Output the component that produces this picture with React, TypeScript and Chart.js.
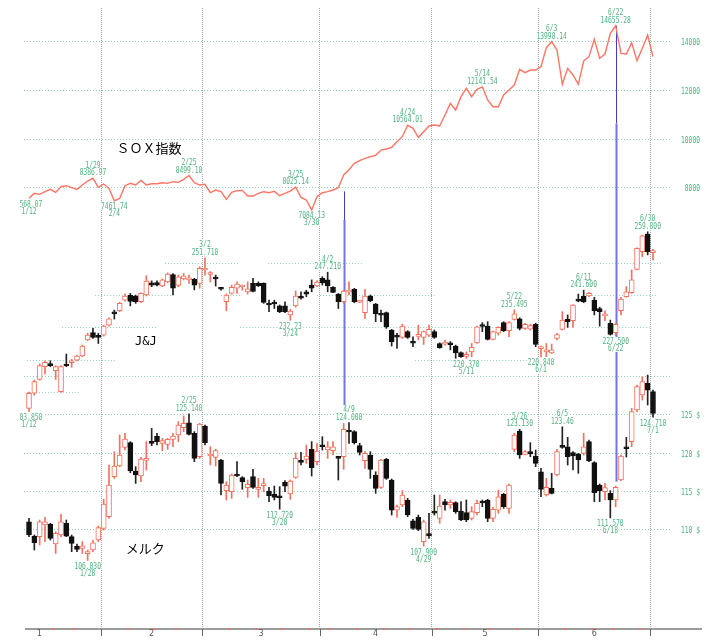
import React, { useEffect, useRef } from 'react';
import { Chart, registerables } from 'chart.js';

Chart.register(...registerables);

// ---------- categories (trading days, month by month) ----------
const tradingDays: number[][] = [
  [12, 13, 14, 15, 16, 20, 21, 22, 23, 26, 27, 28, 29, 30],
  [2, 3, 4, 5, 6, 9, 10, 11, 12, 13, 17, 18, 19, 20, 23, 24, 25, 26, 27],
  [2, 3, 4, 5, 6, 9, 10, 11, 12, 13, 16, 17, 18, 19, 20, 23, 24, 25, 26, 27, 30, 31],
  [1, 2, 6, 7, 8, 9, 10, 13, 14, 15, 16, 17, 20, 21, 22, 23, 24, 27, 28, 29, 30],
  [1, 4, 5, 6, 7, 8, 11, 12, 13, 14, 15, 18, 19, 20, 21, 22, 26, 27, 28, 29],
  [1, 2, 3, 4, 5, 8, 9, 10, 11, 12, 15, 16, 17, 18, 22, 23, 24, 25, 26, 29, 30],
  [1],
];
const monthLabels = ['1', '2', '3', '4', '5', '6'];

// ---------- series ----------
const soxClose = [
  7568.07, 7767, 7726, 7836, 7932, 7808, 8041, 8082, 8000, 7932,
  8110, 8274, 8386.97, 8014, 8151, 7973, 7461.74, 7560, 8082, 8178,
  8110, 8301, 8110, 8164, 8164, 8205, 8178, 8247, 8219, 8342,
  8499.10, 8205, 8110, 8137, 7795, 7904, 7836, 7520, 7808, 7877,
  7890, 7658, 7658, 7767, 7836, 7795, 7849, 7671, 7767, 7863,
  8025.14, 7603, 7493, 7084.13, 7630, 7795, 7836, 7904, 8000, 8521,
  8740, 9000, 9110, 9206, 9274, 9329, 9548, 9589, 9658, 9891,
  10096, 10564.01, 10439, 10069, 10302, 10535, 10576, 10535, 10987, 11466,
  11192, 11740, 12083, 11740, 12042, 12141.54, 11603, 11329, 11329, 11809,
  12014, 12220, 12864, 12727, 12836, 12836, 12973, 13754, 13998.14, 13658,
  12247, 12905, 12631, 12247, 13206, 13384, 14097, 13316, 13494, 14343,
  14655.28, 13521, 13494, 13960, 13220, 13727, 14275, 13384,
];

const jnjOpen = [
  204.8, 209.5, 213.8, 217.8, 218.6, 216.5, 210.0, 218.2, 219.0, 219.8,
  221.1, 226.1, 228.4, 227.3, 227.6, 230.7, 234.8, 235.2, 238.5, 240.0,
  239.8, 238.0, 240.1, 243.9, 244.0, 242.9, 244.2, 246.5, 243.1, 245.1,
  244.8, 245.0, 243.7, 247.9, 246.5, 245.6, 242.2, 238.0, 240.6, 242.2,
  242.6, 241.1, 243.7, 243.7, 243.7, 237.5, 237.5, 236.7, 236.7, 233.9,
  236.7, 239.8, 241.1, 243.2, 242.9, 245.3, 244.8, 242.5, 240.4, 238.0,
  241.0, 241.9, 237.9, 234.6, 239.8, 237.3, 234.1, 234.6, 229.2, 227.3,
  226.9, 228.7, 225.4, 227.2, 226.9, 227.6, 228.7, 225.0, 224.8, 225.0,
  224.2, 222.2, 221.0, 222.4, 225.2, 230.6, 230.4, 226.3, 228.2, 231.5,
  229.0, 232.5, 232.7, 229.7, 229.5, 231.0, 223.4, 222.4, 222.1, 226.6,
  229.4, 232.5, 232.1, 238.7, 239.8, 239.8, 238.5, 235.9, 233.6, 231.3,
  228.4, 235.2, 239.6, 240.8, 248.1, 253.6, 259.1, 253.3,
];
const jnjHigh = [
  209.9, 213.6, 218.6, 219.6, 219.6, 218.1, 218.1, 221.7, 220.1, 221.4,
  224.5, 228.2, 229.7, 228.2, 230.7, 233.0, 235.4, 237.8, 240.4, 240.6,
  240.1, 240.8, 246.1, 244.5, 244.5, 245.1, 247.0, 246.8, 246.3, 246.8,
  246.3, 245.3, 248.9, 251.71, 247.4, 246.3, 242.4, 240.4, 243.2, 244.2,
  243.2, 244.2, 245.3, 244.2, 243.9, 238.5, 238.5, 237.0, 238.0, 235.6,
  241.4, 241.1, 241.6, 244.8, 244.6, 245.8, 247.21, 242.7, 240.6, 241.6,
  244.2, 242.2, 238.5, 241.9, 240.1, 237.5, 235.4, 234.8, 229.4, 228.2,
  231.0, 229.0, 227.1, 230.7, 228.9, 230.7, 229.2, 225.2, 226.1, 225.6,
  224.5, 222.4, 222.4, 225.0, 230.4, 231.5, 231.8, 228.9, 230.2, 231.8,
  231.8, 235.495, 233.0, 231.3, 231.0, 231.3, 224.2, 225.0, 224.8, 228.2,
  234.9, 233.9, 237.1, 240.4, 241.6, 240.9, 239.4, 236.3, 235.2, 232.3,
  231.3, 239.4, 242.7, 247.9, 254.8, 258.8, 259.8, 254.3,
];
const jnjLow = [
  203.85, 208.9, 213.6, 215.5, 217.8, 213.8, 209.8, 217.8, 217.6, 219.6,
  220.9, 225.9, 226.6, 225.0, 227.3, 230.4, 232.6, 234.9, 238.2, 236.7,
  237.5, 237.7, 239.8, 242.7, 242.9, 242.7, 243.9, 240.1, 242.7, 244.8,
  243.7, 241.7, 242.2, 246.3, 244.2, 242.9, 241.6, 235.2, 240.4, 240.6,
  241.6, 240.4, 241.1, 242.7, 237.5, 234.9, 235.9, 234.6, 234.6, 232.23,
  236.3, 238.8, 239.6, 241.1, 242.7, 243.2, 241.1, 240.8, 235.9, 237.5,
  240.1, 237.7, 237.7, 232.8, 238.0, 231.8, 231.8, 229.7, 224.2, 223.5,
  226.6, 226.6, 224.0, 226.1, 224.7, 227.1, 226.6, 223.5, 224.5, 223.0,
  220.4, 220.7, 220.37, 220.9, 225.0, 228.7, 226.1, 226.1, 227.6, 228.7,
  227.1, 232.3, 229.2, 229.4, 229.2, 224.0, 220.84, 220.9, 221.9, 226.1,
  229.2, 230.0, 230.0, 238.0, 237.7, 239.6, 233.9, 230.4, 232.1, 227.6,
  227.5, 233.9, 239.4, 240.6, 247.9, 252.0, 252.6, 251.0,
];
const jnjClose = [
  209.5, 213.1, 218.1, 219.1, 218.1, 217.8, 217.8, 218.0, 219.6, 221.1,
  224.2, 227.6, 226.9, 226.9, 230.4, 232.7, 234.2, 237.5, 239.8, 238.1,
  238.0, 240.6, 244.4, 243.2, 243.2, 244.8, 246.6, 242.2, 245.8, 246.1,
  245.1, 243.2, 248.4, 248.4, 246.8, 245.1, 241.9, 240.1, 242.5, 243.5,
  242.9, 242.0, 241.2, 243.0, 237.8, 237.0, 237.3, 234.9, 234.9, 235.1,
  239.8, 239.1, 240.4, 242.2, 244.1, 243.9, 242.9, 240.9, 238.0, 241.3,
  241.3, 238.0, 238.2, 239.8, 238.3, 234.2, 233.8, 230.2, 225.6, 227.0,
  230.4, 226.9, 225.1, 227.5, 228.7, 229.4, 226.9, 223.7, 225.1, 224.6,
  222.1, 220.9, 221.3, 223.8, 230.2, 230.3, 226.3, 228.7, 230.0, 229.0,
  231.5, 234.2, 229.7, 231.0, 230.6, 224.7, 223.7, 222.7, 223.0, 227.8,
  232.3, 231.8, 237.0, 238.2, 238.0, 240.6, 235.2, 234.9, 233.9, 227.8,
  231.0, 238.8, 241.1, 244.8, 254.6, 258.5, 253.6, 253.8,
];

const mrkOpen = [
  111.08, 109.21, 109.13, 110.65, 110.78, 108.17, 109.35, 110.87, 109.13, 107.91,
  107.61, 106.91, 107.39, 108.69, 110.21, 111.74, 116.95, 118.34, 120.78, 121.39,
  117.69, 117.04, 119.08, 121.43, 122.26, 121.30, 121.17, 121.82, 122.39, 123.34,
  123.99, 122.60, 119.56, 123.56, 119.65, 119.47, 119.13, 115.13, 115.00, 117.21,
  116.82, 115.52, 116.95, 115.30, 115.78, 115.08, 114.69, 114.34, 116.21, 114.69,
  116.86, 118.95, 119.21, 120.52, 118.91, 121.00, 120.43, 120.34, 119.47, 119.56,
  122.91, 122.82, 121.00, 119.04, 119.78, 117.17, 115.56, 119.21, 116.52, 112.60,
  113.26, 113.91, 111.21, 111.65, 108.48, 109.43, 112.34, 111.52, 113.69, 113.26,
  113.56, 112.47, 112.26, 111.52, 112.26, 113.65, 113.91, 111.52, 112.60, 114.65,
  112.82, 120.52, 122.91, 119.86, 120.21, 119.65, 117.60, 114.56, 115.43, 117.17,
  120.95, 120.86, 120.08, 119.91, 120.00, 121.52, 118.78, 115.87, 115.00, 114.78,
  113.91, 116.52, 120.86, 121.52, 125.65, 127.60, 129.12, 128.04,
];
const mrkHigh = [
  111.52, 109.35, 111.30, 111.65, 110.87, 109.78, 112.04, 111.30, 109.35, 108.17,
  108.48, 107.39, 108.69, 110.52, 114.00, 118.47, 120.21, 122.39, 122.60, 121.52,
  118.26, 119.47, 121.52, 123.25, 122.60, 121.95, 121.95, 122.60, 124.12, 124.86,
  125.14, 122.82, 123.91, 123.69, 120.86, 120.52, 119.21, 116.30, 117.30, 118.91,
  116.95, 116.52, 117.91, 116.73, 116.73, 115.56, 115.73, 115.65, 116.43, 116.52,
  120.08, 120.13, 121.08, 121.52, 121.30, 122.17, 121.52, 121.52, 119.56, 123.90,
  124.00, 122.95, 121.30, 120.21, 120.21, 117.60, 119.21, 119.34, 116.65, 113.26,
  115.13, 114.13, 111.39, 111.95, 111.30, 112.17, 114.56, 114.56, 114.00, 113.91,
  113.69, 113.69, 113.91, 113.04, 113.91, 113.91, 114.00, 112.95, 115.21, 114.78,
  116.00, 122.60, 123.13, 120.34, 121.39, 120.43, 118.04, 116.73, 117.39, 120.52,
  123.46, 122.08, 120.21, 120.00, 122.60, 121.73, 118.91, 116.00, 116.08, 115.13,
  115.73, 119.78, 122.08, 125.86, 128.91, 129.99, 130.21, 128.25,
];
const mrkLow = [
  109.13, 107.39, 108.04, 108.48, 108.69, 106.95, 109.13, 109.13, 107.17, 107.17,
  106.95, 106.03, 107.17, 108.48, 109.99, 111.52, 116.73, 118.26, 120.43, 117.47,
  116.08, 116.30, 117.82, 121.00, 121.08, 120.34, 120.52, 120.86, 121.52, 122.82,
  122.39, 118.91, 119.34, 121.08, 118.47, 118.34, 114.56, 113.91, 114.13, 116.95,
  115.30, 114.26, 115.43, 114.26, 115.00, 113.69, 113.91, 112.72, 115.00, 114.00,
  116.73, 118.47, 118.69, 117.04, 118.47, 120.43, 119.34, 119.78, 116.52, 117.91,
  121.30, 121.21, 119.78, 118.04, 116.73, 114.78, 115.43, 116.60, 111.95, 111.65,
  113.04, 111.74, 110.08, 109.91, 107.90, 108.91, 111.95, 110.87, 112.60, 112.82,
  112.17, 111.21, 111.08, 111.30, 111.95, 113.04, 111.08, 111.08, 112.17, 112.82,
  112.17, 120.21, 119.34, 119.78, 119.56, 118.26, 114.34, 114.43, 114.69, 117.04,
  120.65, 118.47, 117.82, 117.39, 119.78, 118.91, 113.69, 113.69, 113.91, 111.57,
  113.04, 116.43, 119.52, 120.86, 125.43, 126.95, 126.30, 124.71,
];
const mrkClose = [
  109.35, 108.34, 111.08, 111.08, 108.91, 109.56, 111.08, 109.21, 108.26, 107.48,
  107.95, 107.04, 108.34, 110.30, 113.39, 115.87, 118.34, 119.78, 121.86, 117.69,
  117.17, 119.26, 119.26, 121.30, 121.52, 121.65, 121.82, 122.26, 123.69, 123.91,
  122.47, 119.34, 123.82, 121.39, 119.78, 120.34, 116.08, 115.87, 117.17, 117.04,
  116.30, 115.95, 115.56, 115.56, 115.91, 114.47, 114.26, 114.21, 115.73, 116.39,
  119.34, 118.82, 119.65, 118.13, 120.30, 120.86, 120.86, 120.86, 119.34, 123.12,
  122.78, 121.39, 120.13, 120.00, 117.91, 115.43, 119.13, 116.73, 112.60, 113.04,
  114.56, 111.95, 110.21, 110.08, 111.08, 109.26, 112.21, 113.13, 113.26, 113.60,
  112.39, 111.30, 111.30, 112.39, 113.47, 113.52, 111.52, 112.69, 114.34, 113.04,
  115.87, 122.39, 119.78, 120.21, 119.91, 118.69, 115.30, 115.56, 114.78, 120.21,
  120.78, 119.56, 119.65, 119.13, 120.86, 119.00, 114.87, 115.13, 115.52, 113.91,
  115.56, 119.65, 120.60, 125.43, 128.69, 129.34, 128.25, 125.21,
];

// ---------- axis ticks ----------
const soxTicks = [8000, 10000, 12000, 14000];
const mrkGridTicks = [110, 115, 120, 125, 130];
const mrkTickLabels = [110, 115, 120, 125];
const jnjGrid = [
  { level: 250, spans: [[25.5, 39.2], [44.8, 62.4], [103.7, 118.9]] },
  { level: 240, spans: [[12.4, 27], [36, 39.6], [54, 76.1], [103.9, 117.8]] },
  { level: 230, spans: [[6.2, 24], [39.6, 95.3], [103.9, 116.4]] },
  { level: 220, spans: [[-0.4, 16.1], [72.4, 98.6]] },
  { level: 210, spans: [[-0.4, 9.4]] },
];

// ---------- annotations (high / low marks) ----------
type Ann = { series: 'sox' | 'jnj' | 'mrk'; index: number; side: 'high' | 'low'; decimals: number };
const annotations: Ann[] = [
  { series: 'sox', index: 0, side: 'low', decimals: 2 },
  { series: 'sox', index: 12, side: 'high', decimals: 2 },
  { series: 'sox', index: 16, side: 'low', decimals: 2 },
  { series: 'sox', index: 30, side: 'high', decimals: 2 },
  { series: 'sox', index: 50, side: 'high', decimals: 2 },
  { series: 'sox', index: 53, side: 'low', decimals: 2 },
  { series: 'sox', index: 71, side: 'high', decimals: 2 },
  { series: 'sox', index: 85, side: 'high', decimals: 2 },
  { series: 'sox', index: 98, side: 'high', decimals: 2 },
  { series: 'sox', index: 110, side: 'high', decimals: 2 },
  { series: 'jnj', index: 0, side: 'low', decimals: 3 },
  { series: 'jnj', index: 33, side: 'high', decimals: 3 },
  { series: 'jnj', index: 49, side: 'low', decimals: 2 },
  { series: 'jnj', index: 56, side: 'high', decimals: 3 },
  { series: 'jnj', index: 82, side: 'low', decimals: 3 },
  { series: 'jnj', index: 91, side: 'high', decimals: 3 },
  { series: 'jnj', index: 96, side: 'low', decimals: 3 },
  { series: 'jnj', index: 104, side: 'high', decimals: 3 },
  { series: 'jnj', index: 110, side: 'low', decimals: 3 },
  { series: 'jnj', index: 116, side: 'high', decimals: 3 },
  { series: 'mrk', index: 11, side: 'low', decimals: 3 },
  { series: 'mrk', index: 30, side: 'high', decimals: 3 },
  { series: 'mrk', index: 47, side: 'low', decimals: 3 },
  { series: 'mrk', index: 60, side: 'high', decimals: 3 },
  { series: 'mrk', index: 74, side: 'low', decimals: 3 },
  { series: 'mrk', index: 92, side: 'high', decimals: 3 },
  { series: 'mrk', index: 100, side: 'high', decimals: 2 },
  { series: 'mrk', index: 109, side: 'low', decimals: 3 },
  { series: 'mrk', index: 117, side: 'low', decimals: 3 },
];

const seriesTitles = [
  { text: 'ＳＯＸ指数', axis: 'ySox', index: 22.5, value: 9632, font: '13px "Noto Sans CJK JP"' },
  { text: 'J&J', axis: 'yJnj', index: 21.9, value: 225.6, font: '12px "DejaVu Sans Mono"' },
  { text: 'メルク', axis: 'yMrk', index: 21.8, value: 107.65, font: '13px "Noto Sans CJK JP"' },
];

// vertical connector lines: thin part on SOX scale, thick part down to Merck
const connectors = [
  { index: 59, soxTop: 7850, soxMid: 6673, mrkBottom: 124.3 },
  { index: 110, soxTop: 14655.28, soxMid: 10640, mrkBottom: 116.3 },
];

// ---------- derived helpers ----------
const dayStamps = tradingDays.flatMap((days, m) => days.map((d) => Date.UTC(2015, m, d) / 86400000));
const dayMonth = tradingDays.flatMap((days, m) => days.map(() => m));
const dates = tradingDays.flatMap((days, m) => days.map((d) => `${m + 1}/${d}`));
const monthBreaks: number[] = [];
const weekBreaks: number[] = [];
for (let i = 0; i < dates.length - 1; i++) {
  if (dayMonth[i + 1] !== dayMonth[i]) monthBreaks.push(i + 0.5);
  else if (dayStamps[i + 1] - dayStamps[i] > 1) weekBreaks.push(i + 0.5);
}

const RED = '#f4705e';
const BLACK = '#111111';
const GREEN_TXT = '#4eb27f';
const HGRID = '#8fd0b0';
const VGRID = '#a3a3a3';
const SX = 0.7;
const LABEL_FONT = '9px "DejaVu Sans Mono"';

const X_MIN = -0.9375;
const X_MAX = 120.1875;

function narrowText(ctx: CanvasRenderingContext2D, text: string, x: number, y: number, align: string, bg: boolean) {
  ctx.save();
  ctx.font = LABEL_FONT;
  const w = ctx.measureText(text).width * SX;
  const left = align === 'center' ? x - w / 2 : align === 'right' ? x - w : x;
  if (bg) {
    ctx.fillStyle = '#ffffff';
    ctx.fillRect(left - 0.5, y - 7, w + 1, 8);
  }
  ctx.translate(left, y);
  ctx.scale(SX, 1);
  ctx.fillStyle = GREEN_TXT;
  ctx.textAlign = 'left';
  ctx.textBaseline = 'alphabetic';
  ctx.fillText(text, 0, 0);
  ctx.restore();
}

const overlayPlugin = {
  id: 'overlay',
  beforeDatasetsDraw(chart: any) {
    const { ctx, scales } = chart;
    const xs = scales.x;
    ctx.save();
    ctx.strokeStyle = HGRID;
    ctx.lineWidth = 1;
    ctx.setLineDash([1, 2]);
    jnjGrid.forEach((g) => {
      const y = Math.round(scales.yJnj.getPixelForValue(g.level)) + 0.5;
      g.spans.forEach(([a, b]) => {
        ctx.beginPath();
        ctx.moveTo(xs.getPixelForValue(a), y);
        ctx.lineTo(xs.getPixelForValue(b), y);
        ctx.stroke();
      });
    });
    ctx.setLineDash([]);
    connectors.forEach((c) => {
      const x = Math.round(xs.getPixelForValue(c.index)) + 0.5;
      const y1 = scales.ySox.getPixelForValue(c.soxTop);
      const y2 = scales.ySox.getPixelForValue(c.soxMid);
      const y3 = scales.yMrk.getPixelForValue(c.mrkBottom);
      ctx.strokeStyle = '#3e3ec9';
      ctx.lineWidth = 1;
      ctx.beginPath();
      ctx.moveTo(x, y1);
      ctx.lineTo(x, y2);
      ctx.stroke();
      ctx.strokeStyle = '#7474de';
      ctx.lineWidth = 2;
      ctx.beginPath();
      ctx.moveTo(x, y2);
      ctx.lineTo(x, y3);
      ctx.stroke();
    });
    ctx.restore();
  },
  afterDatasetsDraw(chart: any) {
    const { ctx, scales } = chart;
    const xs = scales.x;
    ctx.save();
    ctx.beginPath();
    ctx.rect(20, 0, chart.width - 20, chart.height);
    ctx.clip();
    annotations.forEach((a) => {
      let v: number;
      let axis: string;
      if (a.series === 'sox') {
        v = soxClose[a.index];
        axis = 'ySox';
      } else if (a.series === 'jnj') {
        v = a.side === 'high' ? jnjHigh[a.index] : jnjLow[a.index];
        axis = 'yJnj';
      } else {
        v = a.side === 'high' ? mrkHigh[a.index] : mrkLow[a.index];
        axis = 'yMrk';
      }
      const x = xs.getPixelForValue(a.index);
      const y = scales[axis].getPixelForValue(v);
      const valTxt = v.toFixed(a.decimals);
      const dateTxt = dates[a.index];
      if (a.side === 'high') {
        narrowText(ctx, dateTxt, x, y - 10.5, 'center', true);
        narrowText(ctx, valTxt, x, y - 3, 'center', true);
      } else {
        narrowText(ctx, valTxt, x, y + 8.5, 'center', true);
        narrowText(ctx, dateTxt, x, y + 15.5, 'center', true);
      }
    });
    ctx.restore();

    seriesTitles.forEach((t) => {
      ctx.save();
      ctx.font = t.font;
      ctx.fillStyle = '#000000';
      ctx.textAlign = 'center';
      ctx.textBaseline = 'middle';
      ctx.fillText(t.text, xs.getPixelForValue(t.index), scales[t.axis].getPixelForValue(t.value));
      ctx.restore();
    });
  },
  afterDraw(chart: any) {
    const { ctx, scales, chartArea } = chart;
    const xs = scales.x;
    ctx.save();
    const yAxis = chartArea.bottom + 1;
    ctx.fillStyle = '#9c9c9c';
    ctx.fillRect(25, yAxis - 1, 677, 2);
    monthBreaks.forEach((b) => {
      const x = Math.round(xs.getPixelForValue(b));
      ctx.fillStyle = '#666666';
      ctx.fillRect(x, yAxis, 1, 7);
    });
    weekBreaks.forEach((b) => {
      const x = Math.round(xs.getPixelForValue(b));
      ctx.fillStyle = RED;
      ctx.fillRect(x - 1, yAxis - 1, 2, 2);
    });
    ctx.font = '8px "DejaVu Sans"';
    ctx.fillStyle = '#555555';
    ctx.textAlign = 'center';
    ctx.textBaseline = 'top';
    monthLabels.forEach((lab, m) => {
      const end = monthBreaks[m];
      const center = m === 0 ? end - 11.55 : (monthBreaks[m - 1] + end) / 2;
      ctx.fillText(lab, xs.getPixelForValue(center), yAxis + 1);
    });
    soxTicks.forEach((v) => {
      narrowText(ctx, String(v), 700, scales.ySox.getPixelForValue(v) + 3.5, 'right', false);
    });
    mrkTickLabels.forEach((v) => {
      narrowText(ctx, `${v} $`, 700, scales.yMrk.getPixelForValue(v) + 3.5, 'right', false);
    });
    ctx.restore();
  },
};

export default function App() {
  const ref = useRef<HTMLCanvasElement | null>(null);
  useEffect(() => {
    document.body.style.margin = '0';
    const canvas = ref.current;
    if (!canvas) return;
    const jnjUp = jnjOpen.map((o, i) => jnjClose[i] >= o);
    const mrkUp = mrkOpen.map((o, i) => mrkClose[i] >= o);
    const chart = new Chart(canvas, {
      type: 'bar',
      data: {
        datasets: [
          {
            type: 'bar',
            label: 'J&J',
            data: dates.map((_, i) => ({ x: i, y: [jnjOpen[i], jnjClose[i]] })),
            xAxisID: 'x',
            yAxisID: 'yJnj',
            backgroundColor: jnjUp.map((u) => (u ? '#ffffff' : BLACK)),
            borderColor: jnjUp.map((u) => (u ? RED : BLACK)),
            borderWidth: 1,
            borderSkipped: false,
            barThickness: 5,
            minBarLength: 2,
            grouped: false,
            order: 0,
          },
          {
            type: 'bar',
            label: 'J&J range',
            data: dates.map((_, i) => ({ x: i, y: [jnjLow[i], jnjHigh[i]] })),
            xAxisID: 'x',
            yAxisID: 'yJnj',
            backgroundColor: jnjUp.map((u) => (u ? RED : '#222222')),
            borderWidth: 0,
            barThickness: 1,
            grouped: false,
            order: 1,
          },
          {
            type: 'bar',
            label: 'メルク',
            data: dates.map((_, i) => ({ x: i, y: [mrkOpen[i], mrkClose[i]] })),
            xAxisID: 'x',
            yAxisID: 'yMrk',
            backgroundColor: mrkUp.map((u) => (u ? '#ffffff' : BLACK)),
            borderColor: mrkUp.map((u) => (u ? RED : BLACK)),
            borderWidth: 1,
            borderSkipped: false,
            barThickness: 5,
            minBarLength: 2,
            grouped: false,
            order: 0,
          },
          {
            type: 'bar',
            label: 'メルク range',
            data: dates.map((_, i) => ({ x: i, y: [mrkLow[i], mrkHigh[i]] })),
            xAxisID: 'x',
            yAxisID: 'yMrk',
            backgroundColor: mrkUp.map((u) => (u ? RED : '#222222')),
            borderWidth: 0,
            barThickness: 1,
            grouped: false,
            order: 1,
          },
          {
            type: 'line',
            label: 'SOX指数',
            data: soxClose.map((v, i) => ({ x: i, y: v })),
            xAxisID: 'x',
            yAxisID: 'ySox',
            borderColor: '#ff7565',
            borderWidth: 1.4,
            pointRadius: 0,
            tension: 0,
            order: 2,
          },
        ] as any,
      },
      options: {
        responsive: false,
        animation: false,
        events: [],
        layout: { padding: { left: 24, right: 37, top: 8, bottom: 14 } },
        plugins: { legend: { display: false }, tooltip: { enabled: false } },
        scales: {
          x: {
            type: 'linear',
            min: X_MIN,
            max: X_MAX,
            offset: false,
            ticks: { display: false },
            grid: { color: VGRID, drawTicks: false, offset: false, lineWidth: 1 },
            border: { display: false, dash: [1, 1] },
            afterBuildTicks: (s: any) => {
              s.ticks = monthBreaks.map((v) => ({ value: v }));
            },
          },
          ySox: {
            type: 'linear',
            position: 'right',
            min: -10092,
            max: 15384,
            ticks: { display: false },
            grid: { color: HGRID, drawTicks: false, lineWidth: 1 },
            border: { display: false, dash: [1, 2] },
            afterBuildTicks: (s: any) => {
              s.ticks = soxTicks.map((v) => ({ value: v }));
            },
          },
          yMrk: {
            type: 'linear',
            position: 'right',
            min: 97.22,
            max: 178.07,
            ticks: { display: false },
            grid: { color: HGRID, drawTicks: false, lineWidth: 1 },
            border: { display: false, dash: [1, 2] },
            afterBuildTicks: (s: any) => {
              s.ticks = mrkGridTicks.map((v) => ({ value: v }));
            },
          },
          yJnj: {
            type: 'linear',
            display: false,
            min: 136.39,
            max: 329.49,
          },
        } as any,
      },
      plugins: [overlayPlugin],
    } as any);
    return () => chart.destroy();
  }, []);
  return (
    <div style={{ width: 707, height: 642, background: '#ffffff' }}>
      <canvas ref={ref} width={707} height={642} style={{ display: 'block' }} />
    </div>
  );
}
